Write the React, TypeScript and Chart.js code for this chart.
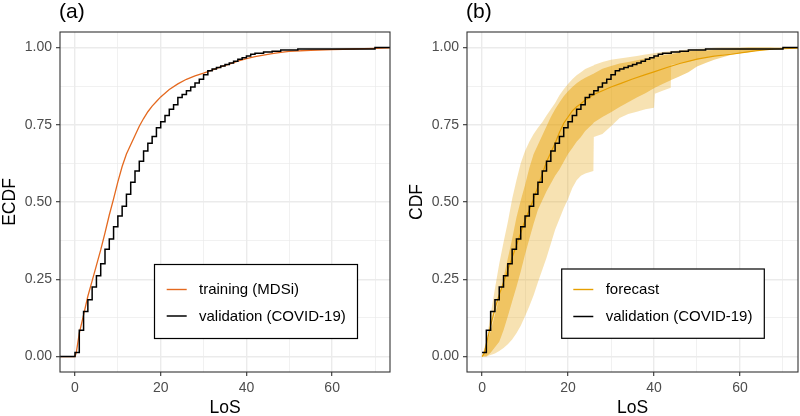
import React, { useEffect, useRef } from 'react';
import { Chart, registerables } from 'chart.js';

Chart.register(...registerables);

const FONT = '"Liberation Sans", Arial, Helvetica, sans-serif';

// ---------- data ----------
// validation (COVID-19) empirical CDF, steps at LoS days
const validationDays = [0, 1, 2, 3, 4, 5, 6, 7, 8, 9, 10, 11, 12, 13, 14, 15, 16, 17, 18, 19, 20, 21, 22, 23, 24, 25, 26, 27, 28, 29, 30, 31, 32, 33, 34, 35, 36, 37, 38, 39, 40, 41, 42, 44, 46, 48, 52, 70];
const validationCdf = [0.013, 0.085, 0.146, 0.184, 0.225, 0.261, 0.300, 0.347, 0.380, 0.420, 0.455, 0.486, 0.525, 0.564, 0.600, 0.632, 0.665, 0.690, 0.712, 0.740, 0.760, 0.780, 0.800, 0.815, 0.838, 0.848, 0.860, 0.872, 0.885, 0.897, 0.912, 0.925, 0.930, 0.935, 0.940, 0.945, 0.950, 0.955, 0.962, 0.967, 0.972, 0.978, 0.981, 0.985, 0.988, 0.992, 0.995, 1.0];

// training (MDSi) empirical CDF
const trainingLoS = [0, 0.3, 1, 2, 3, 4, 5, 6, 7, 8, 9, 10, 11, 12, 13, 14, 15, 16, 17, 18, 19, 20, 22, 24, 26, 28, 30, 32, 34, 36, 38, 40, 42, 44, 46, 48, 50, 55, 60, 65, 70, 75];
const trainingCdf = [0, 0.013, 0.075, 0.135, 0.195, 0.245, 0.295, 0.345, 0.400, 0.458, 0.510, 0.565, 0.615, 0.655, 0.685, 0.715, 0.745, 0.770, 0.792, 0.810, 0.825, 0.840, 0.864, 0.882, 0.897, 0.908, 0.917, 0.927, 0.937, 0.946, 0.956, 0.964, 0.970, 0.975, 0.980, 0.984, 0.987, 0.991, 0.993, 0.995, 0.997, 1.0];

// forecast bands (b)
const bandLoS = [0, 1, 2, 3, 4, 5, 6, 7, 8, 9, 10, 11, 12, 13, 14, 15, 16, 17, 18, 19, 20, 21, 22, 23, 24, 25.9, 26, 28, 30, 32, 34, 36, 38, 40, 40.2, 42, 43.9, 44, 46, 48, 50, 52, 54, 56, 58, 60, 62, 64, 66, 68, 70, 75];
const outerLower = [0, 0, 0.005, 0.01, 0.018, 0.028, 0.04, 0.055, 0.075, 0.10, 0.13, 0.163, 0.198, 0.24, 0.28, 0.32, 0.365, 0.41, 0.445, 0.48, 0.51, 0.545, 0.57, 0.585, 0.592, 0.60, 0.71, 0.72, 0.745, 0.772, 0.785, 0.792, 0.80, 0.805, 0.85, 0.86, 0.87, 0.945, 0.948, 0.953, 0.96, 0.968, 0.973, 0.976, 0.979, 0.981, 0.984, 0.993, 0.997, 1, 1, 1];
const innerLower = [0, 0, 0.012, 0.03, 0.048, 0.085, 0.13, 0.178, 0.225, 0.275, 0.33, 0.38, 0.43, 0.475, 0.505, 0.535, 0.56, 0.585, 0.605, 0.63, 0.655, 0.675, 0.695, 0.71, 0.73, 0.755, 0.757, 0.775, 0.79, 0.807, 0.823, 0.838, 0.852, 0.868, 0.87, 0.882, 0.894, 0.895, 0.907, 0.92, 0.938, 0.95, 0.96, 0.968, 0.976, 0.981, 0.985, 0.989, 0.992, 0.994, 0.996, 0.998];
const innerUpper = [0, 0.04, 0.082, 0.135, 0.19, 0.255, 0.318, 0.38, 0.45, 0.505, 0.555, 0.61, 0.655, 0.685, 0.715, 0.745, 0.775, 0.80, 0.822, 0.842, 0.858, 0.872, 0.884, 0.894, 0.902, 0.915, 0.916, 0.931, 0.94, 0.948, 0.953, 0.959, 0.964, 0.97, 0.97, 0.975, 0.978, 0.978, 0.984, 0.988, 0.989, 0.99, 0.992, 0.994, 0.996, 0.998, 1, 1, 1, 1, 1, 1];
const outerUpper = [0, 0.05, 0.135, 0.22, 0.30, 0.37, 0.435, 0.51, 0.57, 0.625, 0.665, 0.695, 0.72, 0.74, 0.758, 0.78, 0.80, 0.82, 0.845, 0.865, 0.882, 0.897, 0.91, 0.92, 0.93, 0.942, 0.943, 0.953, 0.96, 0.964, 0.968, 0.972, 0.977, 0.981, 0.982, 0.985, 0.988, 0.988, 0.991, 0.993, 0.995, 0.997, 0.999, 1, 1, 1, 1, 1, 1, 1, 1, 1];

// forecast median CDF (b)
const forecastLoS = [0, 0.5, 1, 2, 3, 4, 5, 6, 7, 8, 9, 10, 11, 12, 13, 14, 15, 16, 17, 18, 19, 20, 21, 22, 23, 24, 26, 28, 30, 32, 35, 38, 40, 43, 46, 50, 54, 58, 61, 64, 68, 75];
const forecastCdf = [0, 0.01, 0.04, 0.10, 0.155, 0.20, 0.24, 0.28, 0.32, 0.36, 0.40, 0.44, 0.475, 0.51, 0.55, 0.59, 0.63, 0.66, 0.69, 0.725, 0.755, 0.775, 0.795, 0.808, 0.818, 0.83, 0.848, 0.86, 0.872, 0.882, 0.898, 0.912, 0.921, 0.935, 0.948, 0.962, 0.972, 0.978, 0.984, 0.99, 0.995, 0.998];

// axes
const xMajorTicks = [0, 20, 40, 60];
const xMinorTicks = [10, 30, 50, 70];
const yMajorTicks = [0, 0.25, 0.5, 0.75, 1];
const yMinorTicks = [0.125, 0.375, 0.625, 0.875];
const X_MIN = -3.5, X_MAX = 73.5, Y_MIN = -0.05, Y_MAX = 1.05;

// colours
const TRAIN_COLOR = '#E4691F';
const FORECAST_COLOR = '#E69F00';
const OUTER_FILL = 'rgba(230,159,0,0.30)';
const INNER_FILL = 'rgba(230,159,0,0.45)';

const zip = (xs: number[], ys: number[]) => xs.map((x, i) => ({ x, y: ys[i] }));
const isMajor = (v: number, list: number[]) => list.some((m) => Math.abs(m - v) < 1e-9);

function scales() {
  const xAll = [...xMajorTicks, ...xMinorTicks].sort((a, b) => a - b);
  const yAll = [...yMajorTicks, ...yMinorTicks].sort((a, b) => a - b);
  const grid = (major: number[]) => ({
    color: '#EBEBEB',
    lineWidth: (c: any) => (c.tick && isMajor(c.tick.value, major) ? 1.4 : 0.7),
    tickColor: (c: any) => (c.tick && isMajor(c.tick.value, major) ? '#333333' : 'rgba(0,0,0,0)'),
    tickWidth: 1.1,
    tickLength: 4,
    drawTicks: true,
    drawOnChartArea: true,
  });
  return {
    x: {
      type: 'linear' as const,
      min: X_MIN,
      max: X_MAX,
      afterBuildTicks: (s: any) => { s.ticks = xAll.map((v) => ({ value: v })); },
      afterFit: (s: any) => { s.height = 31; },
      grid: grid(xMajorTicks),
      border: { display: false },
      ticks: {
        autoSkip: false, maxRotation: 0, minRotation: 0, padding: 4,
        color: '#4D4D4D', font: { family: FONT, size: 14 },
        callback: (v: any) => (isMajor(Number(v), xMajorTicks) ? String(v) : ''),
      },
    },
    y: {
      type: 'linear' as const,
      min: Y_MIN,
      max: Y_MAX,
      afterBuildTicks: (s: any) => { s.ticks = yAll.map((v) => ({ value: v })); },
      afterFit: (s: any) => { s.width = 52; },
      grid: grid(yMajorTicks),
      border: { display: false },
      ticks: {
        autoSkip: false, padding: 4,
        color: '#4D4D4D', font: { family: FONT, size: 14 },
        callback: (v: any) => (isMajor(Number(v), yMajorTicks) ? Number(v).toFixed(2) : ''),
      },
    },
  };
}

type LegendItem = { label: string; color: string; width: number; y: number };
type Decor = {
  tag: string;
  yTitle: string;
  yTitleX: number;
  box: { x: number; y: number; w: number; h: number };
  lineX0: number; lineX1: number; textX: number;
  items: LegendItem[];
};

function decorPlugin(d: Decor) {
  return {
    id: 'decor',
    afterDraw(chart: any) {
      const { ctx, chartArea: a } = chart;
      ctx.save();
      // panel border
      ctx.strokeStyle = '#333333';
      ctx.lineWidth = 1.1;
      ctx.strokeRect(a.left, a.top, a.right - a.left, a.bottom - a.top);
      // tag
      ctx.fillStyle = '#000000';
      ctx.font = `21px ${FONT}`;
      ctx.textAlign = 'left';
      ctx.textBaseline = 'alphabetic';
      ctx.fillText(d.tag, a.left - 1, 18);
      // x title
      ctx.font = `17.5px ${FONT}`;
      ctx.textAlign = 'center';
      ctx.fillText('LoS', (a.left + a.right) / 2, 413);
      // y title
      ctx.save();
      ctx.translate(d.yTitleX, (a.top + a.bottom) / 2);
      ctx.rotate(-Math.PI / 2);
      ctx.fillText(d.yTitle, 0, 0);
      ctx.restore();
      // legend
      const b = d.box;
      ctx.fillStyle = '#FFFFFF';
      ctx.fillRect(b.x, b.y, b.w, b.h);
      ctx.strokeStyle = '#000000';
      ctx.lineWidth = 1.2;
      ctx.strokeRect(b.x, b.y, b.w, b.h);
      ctx.font = `15px ${FONT}`;
      ctx.textAlign = 'left';
      ctx.textBaseline = 'middle';
      d.items.forEach((it) => {
        ctx.strokeStyle = it.color;
        ctx.lineWidth = it.width;
        ctx.beginPath();
        ctx.moveTo(d.lineX0, it.y);
        ctx.lineTo(d.lineX1, it.y);
        ctx.stroke();
        ctx.fillStyle = '#000000';
        ctx.fillText(it.label, d.textX, it.y + 0.5);
      });
      ctx.restore();
    },
  };
}

const lineBase = { pointRadius: 0, pointHoverRadius: 0, tension: 0, fill: false };

function configA(): any {
  const leftPad = -10, rightPad = 80;
  return {
    type: 'line',
    data: {
      datasets: [
        {
          ...lineBase,
          label: 'validation (COVID-19)',
          data: [{ x: leftPad, y: 0 }, ...zip(validationDays, validationCdf), { x: rightPad, y: 1 }],
          borderColor: '#000000', borderWidth: 1.5, stepped: 'before',
        },
        {
          ...lineBase,
          label: 'training (MDSi)',
          data: [{ x: leftPad, y: 0 }, ...zip(trainingLoS, trainingCdf), { x: rightPad, y: 1 }],
          borderColor: TRAIN_COLOR, borderWidth: 1.3,
        },
      ],
    },
    options: {
      responsive: false, animation: false, devicePixelRatio: 1,
      layout: { padding: { left: 8, right: 10, top: 32, bottom: 13 } },
      plugins: { legend: { display: false }, title: { display: false }, tooltip: { enabled: false } },
      events: [],
      scales: scales(),
    },
    plugins: [decorPlugin({
      tag: '(a)', yTitle: 'ECDF', yTitleX: 15,
      box: { x: 154.5, y: 264.5, w: 203, h: 74 },
      lineX0: 166.7, lineX1: 186.7, textX: 199,
      items: [
        { label: 'training (MDSi)', color: TRAIN_COLOR, width: 1.4, y: 289.5 },
        { label: 'validation (COVID-19)', color: '#000000', width: 1.5, y: 316 },
      ],
    })],
  };
}

function configB(): any {
  const rightPad = 80;
  return {
    type: 'line',
    data: {
      datasets: [
        {
          ...lineBase,
          label: 'validation (COVID-19)',
          data: [...zip(validationDays, validationCdf), { x: rightPad, y: 1 }],
          borderColor: '#000000', borderWidth: 1.5, stepped: 'before',
        },
        {
          ...lineBase,
          label: 'forecast',
          data: zip(forecastLoS, forecastCdf),
          borderColor: FORECAST_COLOR, borderWidth: 1.2,
        },
        {
          ...lineBase,
          label: 'inner upper',
          data: zip(bandLoS, innerUpper),
          borderColor: 'rgba(0,0,0,0)', borderWidth: 0,
          backgroundColor: INNER_FILL, fill: 3,
        },
        {
          ...lineBase,
          label: 'inner lower',
          data: zip(bandLoS, innerLower),
          borderColor: 'rgba(0,0,0,0)', borderWidth: 0,
        },
        {
          ...lineBase,
          label: 'outer upper',
          data: zip(bandLoS, outerUpper),
          borderColor: 'rgba(0,0,0,0)', borderWidth: 0,
          backgroundColor: OUTER_FILL, fill: 5,
        },
        {
          ...lineBase,
          label: 'outer lower',
          data: zip(bandLoS, outerLower),
          borderColor: 'rgba(0,0,0,0)', borderWidth: 0,
        },
      ],
    },
    options: {
      responsive: false, animation: false, devicePixelRatio: 1,
      layout: { padding: { left: 15, right: 2, top: 32, bottom: 13 } },
      plugins: { legend: { display: false }, title: { display: false }, tooltip: { enabled: false } },
      events: [],
      scales: scales(),
    },
    plugins: [decorPlugin({
      tag: '(b)', yTitle: 'CDF', yTitleX: 21.5,
      box: { x: 161.7, y: 269, w: 202.6, h: 69.3 },
      lineX0: 173.3, lineX1: 193.3, textX: 205.7,
      items: [
        { label: 'forecast', color: FORECAST_COLOR, width: 1.4, y: 289.5 },
        { label: 'validation (COVID-19)', color: '#000000', width: 1.5, y: 316.5 },
      ],
    })],
  };
}

function Panel({ make, left }: { make: () => any; left: number }) {
  const ref = useRef<HTMLCanvasElement>(null);
  useEffect(() => {
    const chart = new Chart(ref.current as HTMLCanvasElement, make());
    return () => chart.destroy();
  }, [make]);
  return (
    <canvas
      ref={ref}
      width={400}
      height={416}
      style={{ position: 'absolute', left, top: 0, width: 400, height: 416, display: 'block' }}
    />
  );
}

export default function App() {
  return (
    <div style={{ position: 'fixed', left: 0, top: 0, width: 800, height: 416, background: '#FFFFFF', overflow: 'hidden' }}>
      <Panel make={configA} left={0} />
      <Panel make={configB} left={400} />
    </div>
  );
}
